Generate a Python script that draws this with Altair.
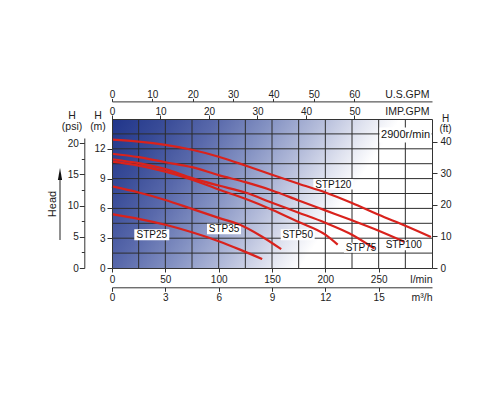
import altair as alt
import pandas as pd

FONT = "Liberation Sans"
RED = "#d9221c"
INK = "#222222"
LINE = "#333333"

# ---------------- data ----------------
Q_MAX = 300.0      # l/min (plot extent)
H_MAX = 15.0       # m (plot extent)

stp25_q = [0, 25, 50, 75, 100, 120, 140.8]
stp25_h = [5.43, 4.95, 4.35, 3.6, 2.7, 1.85, 0.9]

stp35_q = [0, 25, 50, 75, 100, 120, 140, 158.6]
stp35_h = [8.21, 7.6, 6.85, 5.95, 5.05, 4.35, 3.2, 1.9]

stp50_q = [0, 25, 50, 75, 100, 125, 150, 175, 200, 211.6]
stp50_h = [10.7, 10.3, 9.7, 8.9, 7.9, 6.97, 5.87, 4.62, 3.35, 2.35]

stp75_q = [0, 25, 50, 75, 100, 125, 150, 175, 200, 225, 246]
stp75_h = [10.95, 10.55, 9.95, 9.05, 8.3, 7.6, 6.57, 5.57, 4.55, 3.35, 1.95]

stp100_q = [0, 25, 50, 75, 100, 125, 150, 175, 200, 225, 250, 274]
stp100_h = [11.5, 11.16, 10.65, 10.15, 9.35, 8.64, 7.81, 6.8, 5.8, 4.8, 3.76, 2.65]

stp120_q = [0, 25, 50, 75, 100, 125, 150, 175, 200, 225, 250, 275, 299]
stp120_h = [12.93, 12.73, 12.4, 11.9, 11.2, 10.32, 9.39, 8.48, 7.6, 6.55, 5.35, 4.25, 3.12]

label_names = ["STP25", "STP35", "STP50", "STP75", "STP100", "STP120"]
label_q = [37.3, 105.0, 174.1, 233.4, 273.5, 207.5]
label_h = [3.35, 3.93, 3.35, 2.03, 2.32, 8.44]

speed_text = "2900r/min"
speed_q = [275.2]
speed_h = [13.39]

grid_q = [25, 50, 75, 100, 125, 150, 175, 200, 225, 250, 275]
grid_h = [1.5, 3, 4.5, 6, 7.5, 9, 10.5, 12, 13.5]

m_ticks = [0, 3, 6, 9, 12]
psi_ticks = [0, 5, 10, 15, 20]
psi_minor = [2.5, 7.5, 12.5, 17.5]
ft_ticks = [0, 10, 20, 30, 40]
lpm_ticks = [0, 50, 100, 150, 200, 250]
m3h_ticks = [0, 3, 6, 9, 12, 15]
usgpm_ticks = [0, 10, 20, 30, 40, 50, 60]
impgpm_ticks = [0, 10, 20, 30, 40, 50]

# secondary-scale extents (as drawn in the reference)
US_GPM_MAX = Q_MAX / 3.785
IMP_GPM_MAX = Q_MAX / 4.546
M3H_MAX = Q_MAX * 0.06
FT_MAX = 47.2
PSI_TOP = 20.85

W, H = 320, 149

# ---------------- helpers ----------------
def ax(**kw):
    base = dict(labelFont=FONT, labelFontSize=10, labelColor=INK,
                titleFont=FONT, titleFontSize=10.5, titleFontWeight="normal",
                titleColor=INK, domainColor=LINE, tickColor=LINE,
                domainWidth=1, tickWidth=1, grid=False, labelFlush=False,
                labelOverlap=False, zindex=1)
    base.update(kw)
    return alt.Axis(**base)

xs = alt.Scale(domain=[0, Q_MAX], nice=False, zero=True)
ys = alt.Scale(domain=[0, H_MAX], nice=False, zero=True)

rows = []
for name, qs, hs in [("STP25", stp25_q, stp25_h), ("STP35", stp35_q, stp35_h),
                     ("STP50", stp50_q, stp50_h), ("STP75", stp75_q, stp75_h),
                     ("STP100", stp100_q, stp100_h), ("STP120", stp120_q, stp120_h)]:
    for q, h in zip(qs, hs):
        rows.append({"pump": name, "q": q, "h": h})
curve_df = pd.DataFrame(rows)

grad = alt.Gradient(
    gradient="linear",
    stops=[alt.GradientStop(offset=0.0, color="#20358a"),
           alt.GradientStop(offset=0.15, color="#384b97"),
           alt.GradientStop(offset=0.3, color="#5969ab"),
           alt.GradientStop(offset=0.45, color="#8391c2"),
           alt.GradientStop(offset=0.6, color="#b4bcda"),
           alt.GradientStop(offset=0.72, color="#dfe2ef"),
           alt.GradientStop(offset=0.82, color="#ffffff"),
           alt.GradientStop(offset=1.0, color="#ffffff")],
    x1=0, y1=0, x2=1, y2=0.315)

bg_df = pd.DataFrame({"x0": [0.0], "x1": [Q_MAX], "y0": [0.0], "y1": [H_MAX]})

bg = alt.Chart(bg_df).mark_rect(fill=grad).encode(
    x=alt.X("x0:Q", scale=xs, axis=ax(orient="bottom", values=lpm_ticks,
                                     tickSize=4, labelPadding=10.7,
                                     labelBaseline="alphabetic",
                                     title="l/min", titleAngle=0,
                                     titleAlign="right", titleBaseline="alphabetic",
                                     titleX=320, titleY=14.7)),
    x2="x1:Q",
    y=alt.Y("y0:Q", scale=ys, axis=ax(orient="left", values=m_ticks,
                                     tickSize=5, labelPadding=2,
                                     title=["H", "(m)"], titleAngle=0,
                                     titleAlign="center", titleBaseline="alphabetic",
                                     titleX=-14.5, titleY=-1, titleLineHeight=11)),
    y2="y1:Q",
)

gx = alt.Chart(pd.DataFrame({"g": grid_q})).mark_rule(color="#2d2d2d", strokeWidth=1).encode(
    x=alt.X("g:Q", scale=xs, axis=None))
gy = alt.Chart(pd.DataFrame({"g": grid_h})).mark_rule(color="#2d2d2d", strokeWidth=1).encode(
    y=alt.Y("g:Q", scale=ys, axis=None))

box_sizes = {"STP25": (35, 11), "STP35": (34, 10.5), "STP50": (34, 11),
             "STP75": (34, 10), "STP100": (38, 10.5), "STP120": (40, 10.5)}
boxes = []
for name, lq, lh in zip(label_names, label_q, label_h):
    bw, bh = box_sizes[name]
    boxes.append(
        alt.Chart(pd.DataFrame({"q": [lq], "h": [lh]})).mark_rect(
            color="white", width=bw, height=bh).encode(
            x=alt.X("q:Q", scale=xs, axis=None),
            y=alt.Y("h:Q", scale=ys, axis=None)))
boxes.append(
    alt.Chart(pd.DataFrame({"q": speed_q, "h": speed_h})).mark_rect(
        color="white", width=52, height=15).encode(
        x=alt.X("q:Q", scale=xs, axis=None),
        y=alt.Y("h:Q", scale=ys, axis=None)))

curves = alt.Chart(curve_df).mark_line(
    color=RED, strokeWidth=2.2, interpolate="monotone").encode(
    x=alt.X("q:Q", scale=xs, axis=None),
    y=alt.Y("h:Q", scale=ys, axis=None),
    detail="pump:N")

labels = alt.Chart(pd.DataFrame({"name": label_names, "q": label_q, "h": label_h})).mark_text(
    font=FONT, fontSize=10, color="#111111", baseline="middle", dy=0.5).encode(
    x=alt.X("q:Q", scale=xs, axis=None),
    y=alt.Y("h:Q", scale=ys, axis=None),
    text="name:N")

speed = alt.Chart(pd.DataFrame({"t": [speed_text], "q": speed_q, "h": speed_h})).mark_text(
    font=FONT, fontSize=11, color="#111111", baseline="middle", dy=0.5).encode(
    x=alt.X("q:Q", scale=xs, axis=None),
    y=alt.Y("h:Q", scale=ys, axis=None),
    text="t:N")

head_txt = alt.Chart(pd.DataFrame({"t": ["Head"]})).mark_text(
    font=FONT, fontSize=11, color=INK, angle=270, align="center",
    baseline="middle").encode(
    x=alt.value(-58.7), y=alt.value(85), text="t:N")
arrow_line = alt.Chart(pd.DataFrame({"t": [0]})).mark_rule(
    color=INK, strokeWidth=1).encode(
    x=alt.value(-52), y=alt.value(56), y2=alt.value(121))
arrow_head = alt.Chart(pd.DataFrame({"t": [0]})).mark_point(
    shape="M0,-1L0.35,1L-0.35,1Z", filled=True, size=144, color="#111111",
    opacity=1).encode(x=alt.value(-52), y=alt.value(55))

main = alt.layer(bg, gx, gy, *boxes, curves, labels, speed,
                 head_txt, arrow_line, arrow_head).resolve_axis(
    x="independent", y="independent")

# ---------- secondary axes (independent scales) ----------
psi = alt.Chart(pd.DataFrame({"v": psi_ticks})).mark_point(opacity=0).encode(
    y=alt.Y("v:Q",
            scale=alt.Scale(domain=[0, PSI_TOP], range=[H, 19], nice=False, zero=True),
            axis=ax(orient="left", offset=27.7, values=psi_ticks, tickSize=5,
                    labelPadding=1, title=["H", "(psi)"], titleAngle=0,
                    titleAlign="center", titleBaseline="alphabetic",
                    titleX=-12.8, titleY=-1, titleLineHeight=11)))
psi2 = alt.Chart(pd.DataFrame({"v": psi_minor})).mark_point(opacity=0).encode(
    y=alt.Y("v:Q",
            scale=alt.Scale(domain=[0, PSI_TOP], range=[H, 19], nice=False, zero=True),
            axis=ax(orient="left", offset=27.7, values=psi_minor, tickSize=3,
                    labels=False, domain=False, title=None)))
ft = alt.Chart(pd.DataFrame({"v": ft_ticks})).mark_point(opacity=0).encode(
    y=alt.Y("v:Q", scale=alt.Scale(domain=[0, FT_MAX], nice=False, zero=True),
            axis=ax(orient="right", values=ft_ticks, tickSize=5, labelPadding=3,
                    title=["H", "(ft)"], titleAngle=0, titleAlign="center",
                    titleBaseline="alphabetic", titleX=13, titleY=2,
                    titleFontSize=10, titleLineHeight=10)))
us = alt.Chart(pd.DataFrame({"v": usgpm_ticks})).mark_point(opacity=0).encode(
    x=alt.X("v:Q", scale=alt.Scale(domain=[0, US_GPM_MAX], nice=False, zero=True),
            axis=ax(orient="top", offset=17.6, values=usgpm_ticks, tickSize=3,
                    labelPadding=1, labelBaseline="alphabetic",
                    title="U.S.GPM", titleAngle=0, titleAlign="right",
                    titleBaseline="alphabetic", titleX=317, titleY=-4)))
imp = alt.Chart(pd.DataFrame({"v": impgpm_ticks})).mark_point(opacity=0).encode(
    x=alt.X("v:Q", scale=alt.Scale(domain=[0, IMP_GPM_MAX], nice=False, zero=True),
            axis=ax(orient="top", offset=0, values=impgpm_ticks, tickSize=4,
                    labelPadding=1, labelBaseline="alphabetic",
                    title="IMP.GPM", titleAngle=0, titleAlign="right",
                    titleBaseline="alphabetic", titleX=317, titleY=-5)))
m3h = alt.Chart(pd.DataFrame({"v": m3h_ticks})).mark_point(opacity=0).encode(
    x=alt.X("v:Q", scale=alt.Scale(domain=[0, M3H_MAX], nice=False, zero=True),
            axis=ax(orient="bottom", offset=19.3, values=m3h_ticks, tickSize=4,
                    labelPadding=9.4, labelBaseline="alphabetic",
                    title="m³/h", titleAngle=0, titleAlign="right",
                    titleBaseline="alphabetic", titleX=320, titleY=13.4)))

chart = alt.layer(main, psi, psi2, ft, us, imp, m3h).resolve_scale(
    x="independent", y="independent").properties(
    width=W, height=H,
    autosize=alt.AutoSizeParams(type="none"),
    padding={"left": 104, "top": 111, "right": 40, "bottom": 40},
    background="white",
).configure_view(stroke=None)

chart.save("out.html", embed_options={"renderer": "svg", "actions": False})
